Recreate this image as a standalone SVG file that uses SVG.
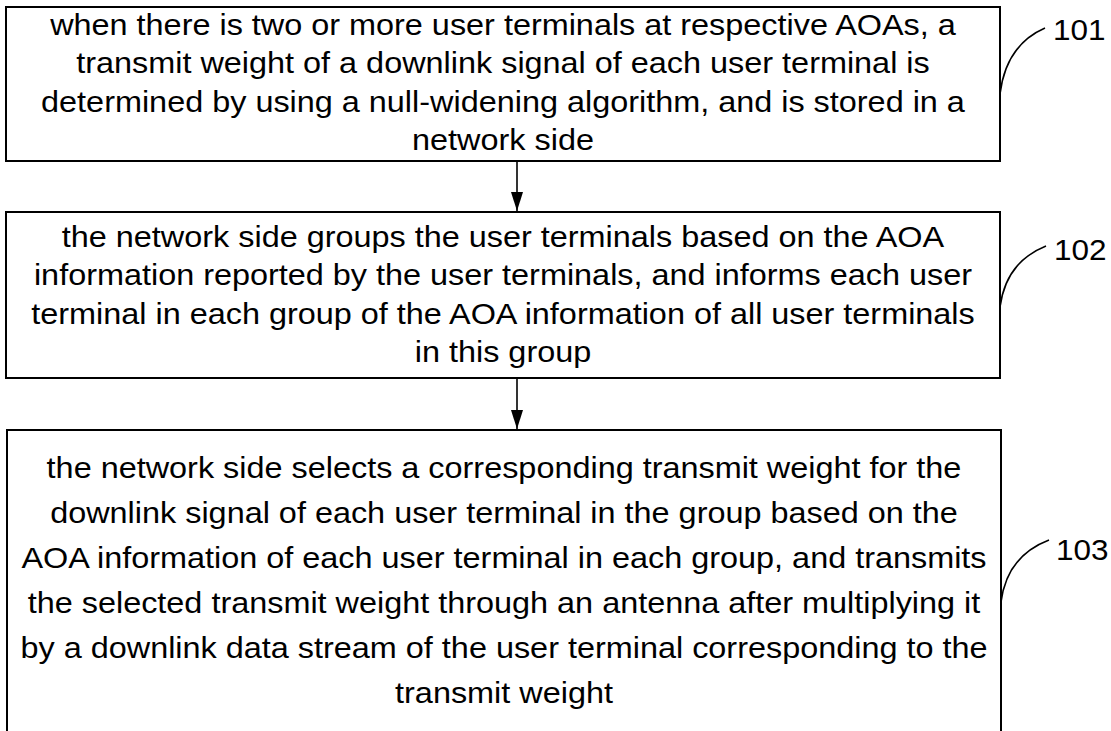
<svg xmlns="http://www.w3.org/2000/svg" width="1111" height="731" viewBox="0 0 1111 731">
<style>
.box{fill:#fff;stroke:#000;stroke-width:2}
.t{font-family:"Liberation Sans",Arial,sans-serif;font-size:30px;fill:#000;text-anchor:middle}
.lbl{font-family:"Liberation Sans",Arial,sans-serif;font-size:30px;fill:#000}
.conn{stroke:#000;stroke-width:1.6;fill:none}
.lead{stroke:#000;stroke-width:1.6;fill:none}
</style>
<defs>
<marker id="ah" markerWidth="19" markerHeight="12" refX="19" refY="6" orient="auto" markerUnits="userSpaceOnUse" viewBox="0 0 19 12">
<path d="M0,0 L19,6 L0,12 z" fill="#000"/>
</marker>
</defs>
<rect width="1111" height="731" fill="#fff"/>
<g id="connectors">
<line class="conn" x1="517" y1="162" x2="517" y2="211" marker-end="url(#ah)"/>
<line class="conn" x1="517" y1="379" x2="517" y2="429" marker-end="url(#ah)"/>
<path class="lead" d="M1000,94 Q1006,45 1045,28"/>
<path class="lead" d="M1000,307 Q1006,262 1046,246"/>
<path class="lead" d="M1001,602 Q1007,556 1049,540"/>
</g>
<g id="node101">
<rect class="box" x="6" y="7" width="994" height="154"/>
<g transform="translate(503,0) scale(1.08,1) translate(-503,0)">
<text class="t" x="503" y="35">when there is two or more user terminals at respective AOAs, a</text>
<text class="t" x="503" y="73.5">transmit weight of a downlink signal of each user terminal is</text>
<text class="t" x="503" y="112">determined by using a null-widening algorithm, and is stored in a</text>
<text class="t" x="503" y="150.5">network side</text>
</g>
</g>
<g id="node102">
<rect class="box" x="6" y="212" width="994" height="166"/>
<g transform="translate(503,0) scale(1.08,1) translate(-503,0)">
<text class="t" x="503" y="247">the network side groups the user terminals based on the AOA</text>
<text class="t" x="503" y="285.5">information reported by the user terminals, and informs each user</text>
<text class="t" x="503" y="324">terminal in each group of the AOA information of all user terminals</text>
<text class="t" x="503" y="362">in this group</text>
</g>
</g>
<g id="node103">
<rect class="box" x="7" y="430" width="994" height="320"/>
<g transform="translate(504,0) scale(1.08,1) translate(-504,0)">
<text class="t" x="504" y="478">the network side selects a corresponding transmit weight for the</text>
<text class="t" x="504" y="523">downlink signal of each user terminal in the group based on the</text>
<text class="t" x="504" y="568">AOA information of each user terminal in each group, and transmits</text>
<text class="t" x="504" y="613">the selected transmit weight through an antenna after multiplying it</text>
<text class="t" x="504" y="658">by a downlink data stream of the user terminal corresponding to the</text>
<text class="t" x="504" y="703">transmit weight</text>
</g>
</g>
<g id="labels">
<text class="lbl" x="1053" y="40" transform="translate(1053,0) scale(1.05,1) translate(-1053,0)">101</text>
<text class="lbl" x="1054" y="260" transform="translate(1054,0) scale(1.05,1) translate(-1054,0)">102</text>
<text class="lbl" x="1056" y="560" transform="translate(1056,0) scale(1.05,1) translate(-1056,0)">103</text>
</g>
</svg>
